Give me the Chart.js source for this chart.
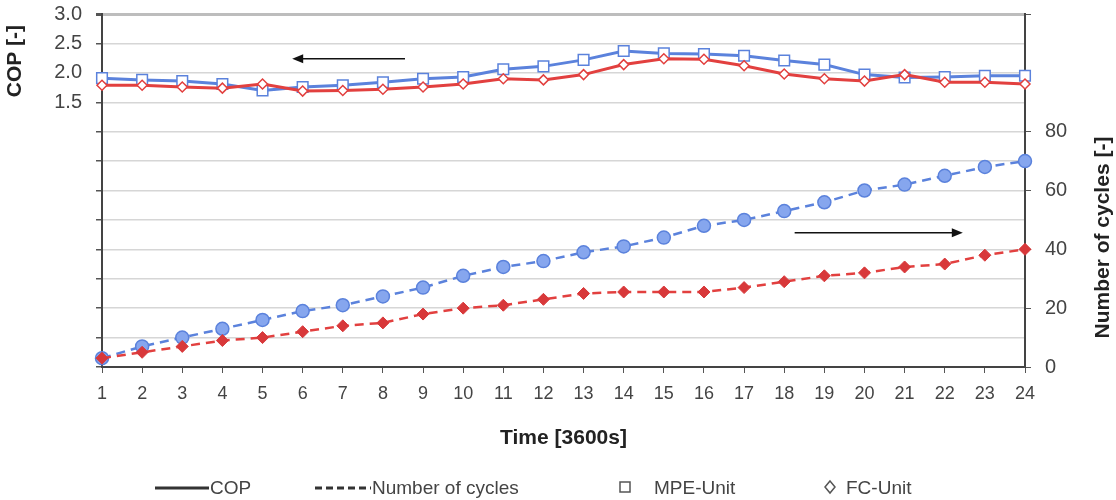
<!DOCTYPE html>
<html>
<head>
<meta charset="utf-8">
<script src="https://cdn.jsdelivr.net/npm/chart.js@4.4.1/dist/chart.umd.min.js"></script>
<style>
  body { margin: 0; background: #fff; }
  #wrap { position: relative; width: 1116px; height: 500px; }
  #legend { position: absolute; left: 0; top: 476px; width: 1116px; height: 24px;
            font: 19px "Liberation Sans", Arial, sans-serif; color: #444; }
  #legend svg, #legend span { position: absolute; top: 0; }
  #legend span { line-height: 24px; }
</style>
</head>
<body>
<div id="wrap">
  <canvas id="grafico" width="1116" height="500"></canvas>
  <div id="legend">
    <svg style="left:155px" width="54" height="24"><line x1="0" y1="12" x2="54" y2="12" stroke="#333" stroke-width="3"/></svg>
    <span style="left:210px">COP</span>
    <svg style="left:315px" width="56" height="24"><line x1="0" y1="12" x2="56" y2="12" stroke="#333" stroke-width="3" stroke-dasharray="7,4"/></svg>
    <span style="left:372px">Number of cycles</span>
    <svg style="left:618px" width="14" height="24"><rect x="2" y="6" width="10" height="10" fill="#fff" stroke="#555" stroke-width="1.5"/></svg>
    <span style="left:654px">MPE-Unit</span>
    <svg style="left:823px" width="14" height="24"><path d="M7 5 L12 11 L7 17 L2 11 Z" fill="#fff" stroke="#555" stroke-width="1.5"/></svg>
    <span style="left:846px">FC-Unit</span>
  </div>
</div>
<script>
const horas = ['1','2','3','4','5','6','7','8','9','10','11','12','13','14','15','16','17','18','19','20','21','22','23','24'];

// COP [-] (eixo esquerdo)
const copMPE = [1.91,1.88,1.86,1.81,1.70,1.76,1.79,1.84,1.90,1.93,2.06,2.11,2.22,2.37,2.33,2.32,2.29,2.21,2.14,1.97,1.92,1.93,1.95,1.95];
const copFC  = [1.79,1.79,1.76,1.74,1.81,1.69,1.70,1.72,1.76,1.81,1.90,1.88,1.97,2.14,2.24,2.23,2.12,1.98,1.90,1.86,1.97,1.84,1.84,1.81];

// Number of cycles [-] (eixo direito)
const ciclosMPE = [3,7,10,13,16,19,21,24,27,31,34,36,39,41,44,48,50,53,56,60,62,65,68,70];
const ciclosFC  = [3,5,7,9,10,12,14,15,18,20,21,23,25,25.5,25.5,25.5,27,29,31,32,34,35,38,40];

// setas: [indice x, valor y]
const setas = [
  { eixo: 'y',  de: [7.55, 2.24], para: [4.74, 2.24] },
  { eixo: 'y1', de: [17.26, 45.6], para: [21.45, 45.6] }
];

const azul = '#5b82dc';
const vermelho = '#e2403f';
const fonte = '"Liberation Sans", Arial, sans-serif';

const extras = {
  id: 'extras',
  afterDatasetsDraw(chart) {
    const { ctx, scales, chartArea } = chart;
    ctx.save();
    ctx.strokeStyle = '#111';
    ctx.fillStyle = '#111';
    ctx.lineWidth = 1.5;
    setas.forEach(s => {
      const sc = scales[s.eixo];
      const x1 = scales.x.getPixelForValue(s.de[0]), y1 = sc.getPixelForValue(s.de[1]);
      const x2 = scales.x.getPixelForValue(s.para[0]), y2 = sc.getPixelForValue(s.para[1]);
      const dir = Math.sign(x2 - x1);
      ctx.beginPath();
      ctx.moveTo(x1, y1);
      ctx.lineTo(x2 - dir * 9, y2);
      ctx.stroke();
      ctx.beginPath();
      ctx.moveTo(x2, y2);
      ctx.lineTo(x2 - dir * 11, y2 - 4.5);
      ctx.lineTo(x2 - dir * 11, y2 + 4.5);
      ctx.closePath();
      ctx.fill();
    });

    // titulos verticais
    ctx.fillStyle = '#222';
    ctx.font = 'bold 21px ' + fonte;
    ctx.textAlign = 'center';
    ctx.textBaseline = 'middle';
    const titulos = [
      { texto: 'COP [-]', x: chartArea.left - 87, y: scales.y.getPixelForValue(2.2) },
      { texto: 'Number of cycles [-]', x: chartArea.right + 78, y: scales.y1.getPixelForValue(44) }
    ];
    titulos.forEach(t => {
      ctx.save();
      ctx.translate(t.x, t.y);
      ctx.rotate(-Math.PI / 2);
      ctx.fillText(t.texto, 0, 0);
      ctx.restore();
    });
    ctx.restore();
  }
};

const ctx = document.getElementById('grafico').getContext('2d');

new Chart(ctx, {
  type: 'line',
  data: {
    labels: horas,
    datasets: [
      {
        label: 'COP FC-Unit', data: copFC, yAxisID: 'y',
        borderColor: vermelho, borderWidth: 3,
        pointStyle: 'rectRot', pointRadius: 5,
        pointBackgroundColor: '#fff', pointBorderColor: vermelho, pointBorderWidth: 1.5
      },
      {
        label: 'COP MPE-Unit', data: copMPE, yAxisID: 'y',
        borderColor: azul, borderWidth: 3,
        pointStyle: 'rect', pointRadius: 7.5,
        pointBackgroundColor: '#fff', pointBorderColor: azul, pointBorderWidth: 1.5
      },
      {
        label: 'Cycles FC-Unit', data: ciclosFC, yAxisID: 'y1',
        borderColor: vermelho, borderWidth: 2.5, borderDash: [9, 6],
        pointStyle: 'rectRot', pointRadius: 6,
        pointBackgroundColor: '#d8383a', pointBorderColor: '#d8383a', pointBorderWidth: 1
      },
      {
        label: 'Cycles MPE-Unit', data: ciclosMPE, yAxisID: 'y1',
        borderColor: azul, borderWidth: 2.5, borderDash: [9, 6],
        pointStyle: 'circle', pointRadius: 6.5,
        pointBackgroundColor: '#86a6ee', pointBorderColor: azul, pointBorderWidth: 1.5
      }
    ]
  },
  options: {
    responsive: false,
    animation: false,
    layout: { padding: { top: 14, bottom: 49, left: 0, right: 0 } },
    plugins: { legend: { display: false }, tooltip: { enabled: false } },
    scales: {
      x: {
        offset: false,
        ticks: { font: { family: fonte, size: 18 }, color: '#444', padding: 10, maxRotation: 0, autoSkip: false },
        grid: { drawOnChartArea: false, tickLength: 6, tickColor: '#555', color: '#555' },
        border: { color: '#444', width: 2 },
        title: { display: true, text: 'Time [3600s]', color: '#222', font: { family: fonte, size: 21, weight: 'bold' }, padding: { top: 0, bottom: 0 } },
        afterFit: s => { s.height = 84; }
      },
      y: {
        position: 'left', min: -3, max: 3,
        ticks: {
          stepSize: 0.5, padding: 14, color: '#444', font: { family: fonte, size: 20 },
          callback: v => v >= 1.5 ? v.toFixed(1) : ''
        },
        grid: {
          color: c => c.tick && c.tick.value === 3 ? '#bdbdbd' : '#d6d6d6',
          lineWidth: c => c.tick && c.tick.value === 3 ? 3 : 1.5,
          tickColor: '#555', tickLength: 6
        },
        border: { color: '#444', width: 2 },
        afterFit: s => { s.width = 102; s.paddingTop = 0; s.paddingBottom = 0; }
      },
      y1: {
        position: 'right', min: 0, max: 120,
        ticks: {
          stepSize: 20, padding: 14, color: '#444', font: { family: fonte, size: 20 },
          callback: v => v <= 80 ? v : ''
        },
        grid: { drawOnChartArea: false, tickColor: '#555', tickLength: 6 },
        border: { color: '#444', width: 2 },
        afterFit: s => { s.width = 91; s.paddingTop = 0; s.paddingBottom = 0; }
      }
    }
  },
  plugins: [extras]
});
</script>
</body>
</html>
